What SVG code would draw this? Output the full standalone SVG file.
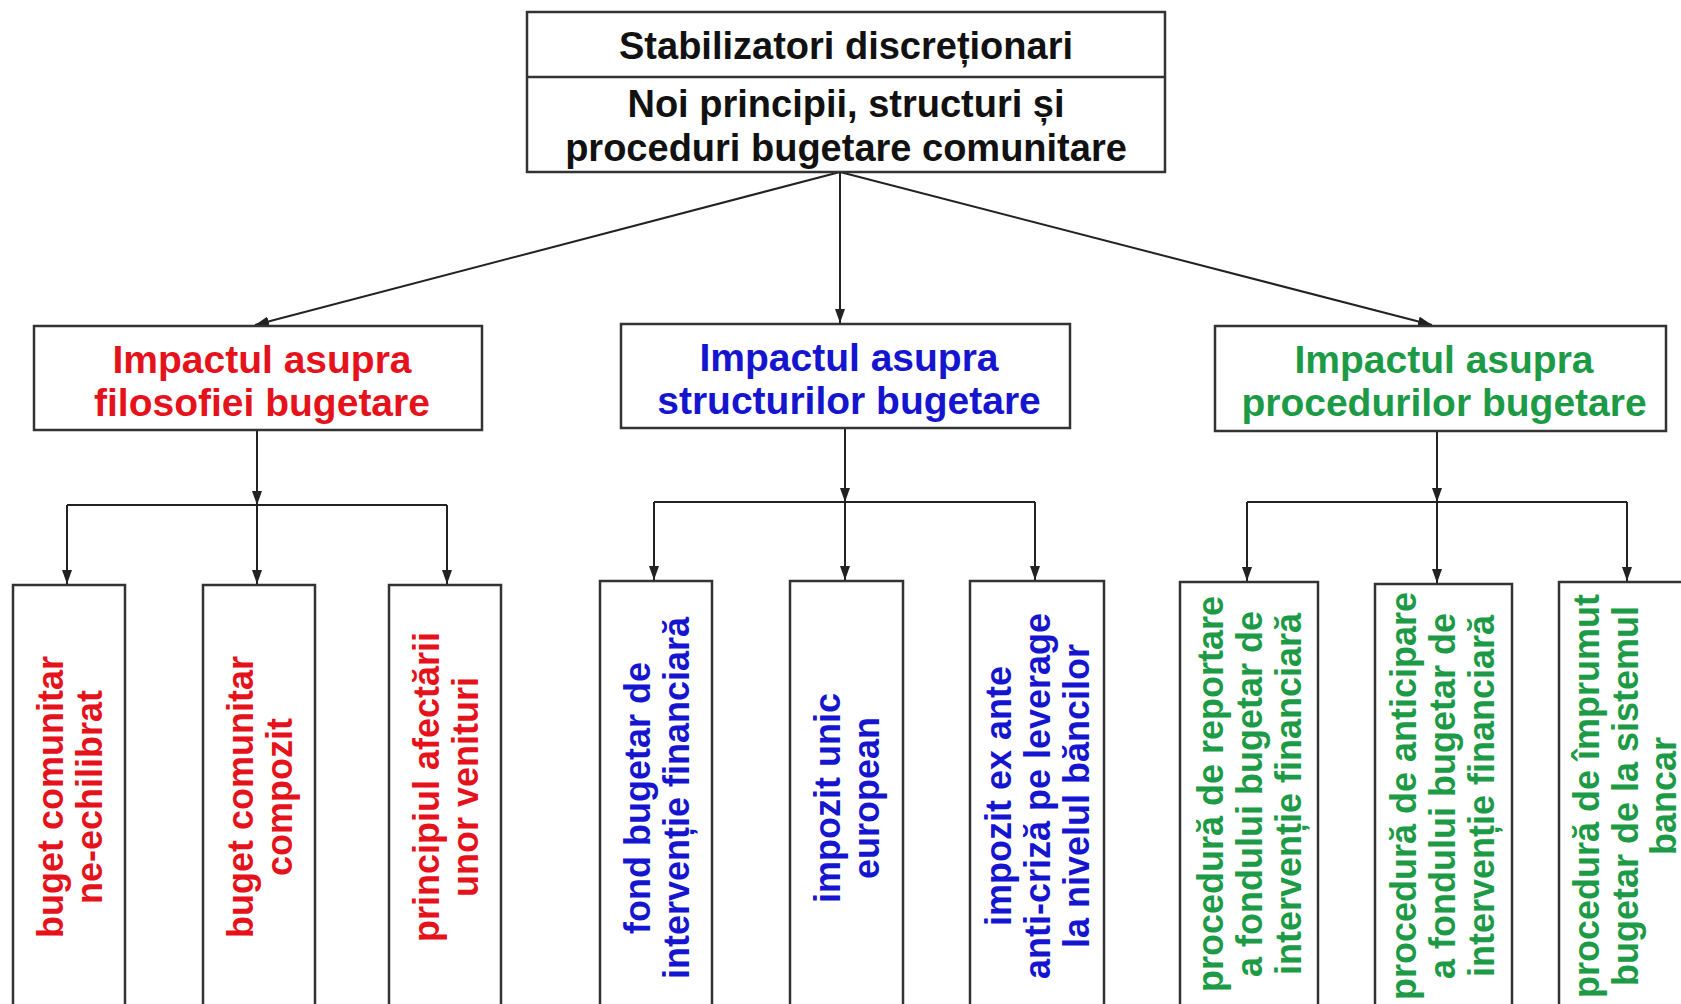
<svg xmlns="http://www.w3.org/2000/svg" width="1681" height="1004" viewBox="0 0 1681 1004">
<style>
.box{fill:#fff;stroke:#333;stroke-width:2.5}
.ln{fill:none;stroke:#222;stroke-width:2}
.t{font-family:"Liberation Sans",Arial,sans-serif;font-weight:bold;text-anchor:middle}
.top{font-size:38px;fill:#111}
.l2{font-size:39px}
.l3{font-size:36px}
.red{fill:#e5121b}
.blue{fill:#1515d0}
.green{fill:#1c9a45}
</style>
<defs>
<marker id="arr" viewBox="0 0 14 10" refX="14" refY="5" markerWidth="14" markerHeight="10" markerUnits="userSpaceOnUse" orient="auto">
<path d="M0,0 L14,5 L0,10 z" fill="#222"/>
</marker>
</defs>

<g id="connectors">
<line class="ln" x1="840" y1="172" x2="255" y2="325" marker-end="url(#arr)"/>
<line class="ln" x1="840" y1="172" x2="840" y2="323" marker-end="url(#arr)"/>
<line class="ln" x1="840" y1="172" x2="1432" y2="325" marker-end="url(#arr)"/>

<line class="ln" x1="257" y1="430" x2="257" y2="505" marker-end="url(#arr)"/>
<line class="ln" x1="67" y1="505" x2="447" y2="505"/>
<line class="ln" x1="67" y1="505" x2="67" y2="584" marker-end="url(#arr)"/>
<line class="ln" x1="257" y1="505" x2="257" y2="584" marker-end="url(#arr)"/>
<line class="ln" x1="447" y1="505" x2="447" y2="584" marker-end="url(#arr)"/>

<line class="ln" x1="845" y1="428" x2="845" y2="502" marker-end="url(#arr)"/>
<line class="ln" x1="654" y1="502" x2="1035" y2="502"/>
<line class="ln" x1="654" y1="502" x2="654" y2="580" marker-end="url(#arr)"/>
<line class="ln" x1="845" y1="502" x2="845" y2="580" marker-end="url(#arr)"/>
<line class="ln" x1="1035" y1="502" x2="1035" y2="580" marker-end="url(#arr)"/>

<line class="ln" x1="1437" y1="431" x2="1437" y2="502" marker-end="url(#arr)"/>
<line class="ln" x1="1247" y1="502" x2="1627" y2="502"/>
<line class="ln" x1="1247" y1="502" x2="1247" y2="581" marker-end="url(#arr)"/>
<line class="ln" x1="1437" y1="502" x2="1437" y2="583" marker-end="url(#arr)"/>
<line class="ln" x1="1627" y1="502" x2="1627" y2="581" marker-end="url(#arr)"/>
</g>

<g id="node-top">
<rect class="box" x="527" y="12" width="638" height="160"/>
<line class="box" x1="527" y1="77" x2="1165" y2="77"/>
<text class="t top" x="846" y="59">Stabilizatori discreționari</text>
<text class="t top" x="846" y="117">Noi principii, structuri și</text>
<text class="t top" x="846" y="161">proceduri bugetare comunitare</text>
</g>

<g id="node-filosofie">
<rect class="box" x="34" y="326" width="448" height="104"/>
<text class="t l2 red"><tspan x="262" y="373">Impactul asupra</tspan><tspan x="262" y="416">filosofiei bugetare</tspan></text>
</g>
<g id="node-structuri">
<rect class="box" x="621" y="324" width="449" height="104"/>
<text class="t l2 blue"><tspan x="849" y="371">Impactul asupra</tspan><tspan x="849" y="414">structurilor bugetare</tspan></text>
</g>
<g id="node-proceduri">
<rect class="box" x="1215" y="326" width="451" height="105"/>
<text class="t l2 green"><tspan x="1444" y="373">Impactul asupra</tspan><tspan x="1444" y="416">procedurilor bugetare</tspan></text>
</g>

<g id="node-b1">
<rect class="box" x="13" y="585" width="112" height="430"/>
<text class="t l3 red" transform="translate(69,797) rotate(-90)"><tspan x="0" y="-6">buget comunitar</tspan><tspan x="0" y="33">ne-echilibrat</tspan></text>
</g>
<g id="node-b2">
<rect class="box" x="203" y="585" width="112" height="430"/>
<text class="t l3 red" transform="translate(259,797) rotate(-90)"><tspan x="0" y="-6">buget comunitar</tspan><tspan x="0" y="33">compozit</tspan></text>
</g>
<g id="node-b3">
<rect class="box" x="389" y="585" width="112" height="430"/>
<text class="t l3 red" transform="translate(445,787) rotate(-90)"><tspan x="0" y="-6">principiul afectării</tspan><tspan x="0" y="33">unor venituri</tspan></text>
</g>

<g id="node-b4">
<rect class="box" x="600" y="581" width="112" height="434"/>
<text class="t l3 blue" transform="translate(656,798) rotate(-90)"><tspan x="0" y="-6">fond bugetar de</tspan><tspan x="0" y="33">intervenție financiară</tspan></text>
</g>
<g id="node-b5">
<rect class="box" x="790" y="581" width="113" height="434"/>
<text class="t l3 blue" transform="translate(846,798) rotate(-90)"><tspan x="0" y="-6">impozit unic</tspan><tspan x="0" y="33">european</tspan></text>
</g>
<g id="node-b6">
<rect class="box" x="970" y="581" width="134" height="434"/>
<text class="t l3 blue" transform="translate(1037,796) rotate(-90)"><tspan x="0" y="-26">impozit ex ante</tspan><tspan x="0" y="13">anti-criză pe leverage</tspan><tspan x="0" y="52">la nivelul băncilor</tspan></text>
</g>

<g id="node-b7">
<rect class="box" x="1180" y="582" width="138" height="433"/>
<text class="t l3 green" transform="translate(1249,794) rotate(-90)"><tspan x="0" y="-26">procedură de reportare</tspan><tspan x="0" y="13">a fondului bugetar de</tspan><tspan x="0" y="52">intervenție financiară</tspan></text>
</g>
<g id="node-b8">
<rect class="box" x="1375" y="584" width="137" height="431"/>
<text class="t l3 green" transform="translate(1442,796) rotate(-90)"><tspan x="0" y="-26">procedură de anticipare</tspan><tspan x="0" y="13">a fondului bugetar de</tspan><tspan x="0" y="52">intervenție financiară</tspan></text>
</g>
<g id="node-b9">
<rect class="box" x="1559" y="582" width="140" height="433"/>
<text class="t l3 green" transform="translate(1625,796) rotate(-90)"><tspan x="0" y="-26">procedură de împrumut</tspan><tspan x="0" y="13">bugetar de la sistemul</tspan><tspan x="0" y="51">bancar</tspan></text>
</g>
</svg>
